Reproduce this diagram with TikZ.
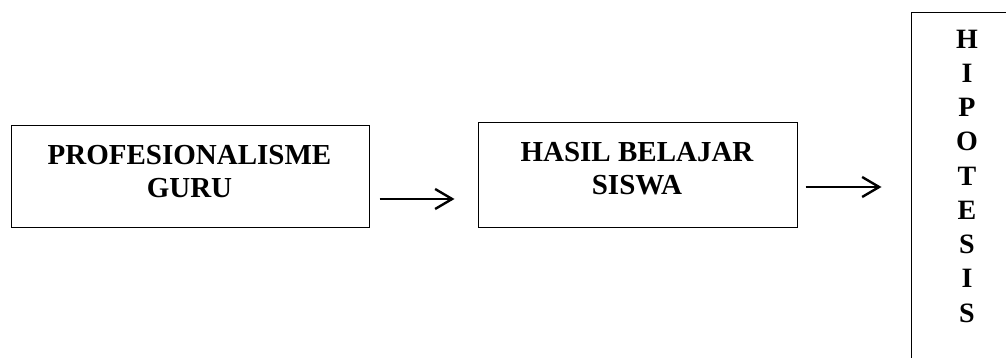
\documentclass[tikz,border=0pt]{standalone}
\usepackage{fontspec}
\newfontfamily\lblfont{Liberation Serif Bold}
\usetikzlibrary{arrows.meta}
\begin{document}
\begin{tikzpicture}[x=1pt,y=1pt,
  framebox/.style={draw=black, line width=1pt, inner sep=0pt},
  lbl/.style={inner sep=0pt, align=center, font=\lblfont\fontsize{29}{33}\selectfont},
  vlbl/.style={inner sep=0pt, align=center, font=\lblfont\fontsize{28}{34.25}\selectfont},
  arr/.style={line width=2.4pt, -{Straight Barb[length=17pt,width=20pt,line width=2.4pt]}}]
  \useasboundingbox (0,0) rectangle (1006,358);
  \clip (0,0) rectangle (1006,358);
  % boxes
  \node[framebox, minimum width=358pt, minimum height=102pt] (prof) at (190,181) {};
  \node[framebox, minimum width=319pt, minimum height=105pt] (hasil) at (637.5,182.5) {};
  \node[framebox, minimum width=112pt, minimum height=365pt] (hipo) at (967,162.5) {};
  % labels
  \node[lbl] (proftxt) at (189.5,186) {PROFESIONALISME\\GURU};
  \node[lbl] (hasiltxt) at (637,189.5) {HASIL BELAJAR\\SISWA};
  \node[vlbl] (hipotxt) at (967,182) {H\\I\\P\\O\\T\\E\\S\\I\\S};
  % arrows
  \draw[arr] ([xshift=10pt]prof.east |- 0,159) -- ([xshift=-23pt]hasil.west |- 0,159);
  \draw[arr] ([xshift=8pt]hasil.east |- 0,171) -- ([xshift=-29pt]hipo.west |- 0,171);
\end{tikzpicture}
\end{document}
